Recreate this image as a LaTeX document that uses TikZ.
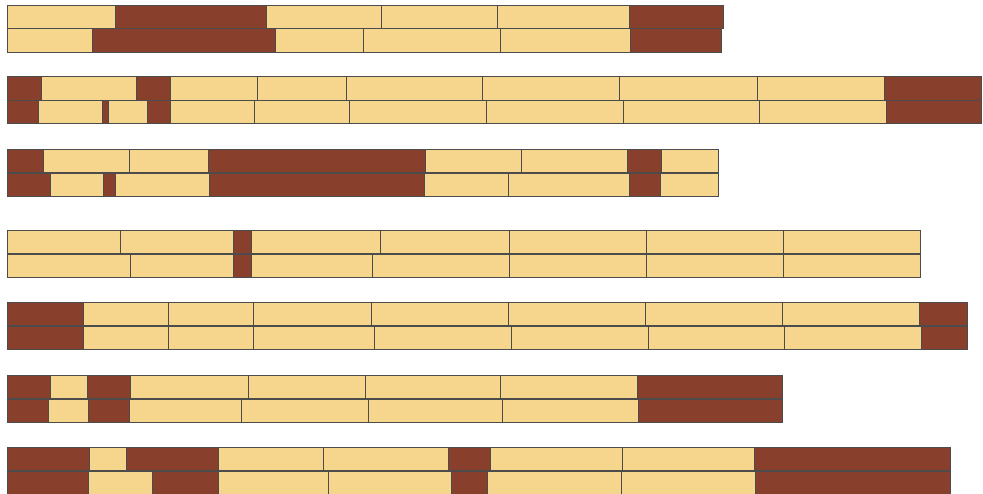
\documentclass[tikz,border=0pt]{standalone}
\usepackage{tikz}
\definecolor{barpale}{RGB}{245,214,140}
\definecolor{barbrick}{RGB}{136,63,43}
\newcommand{\segrow}[2]{\foreach \xa/\xb/\st in {#2}{\draw[\st] (\xa,#1) rectangle (\xb,{#1+23.5});}}

\begin{document}
\begin{tikzpicture}[
    x=1pt, y=-1pt,
    pale/.style={fill=barpale, draw=black!70, line width=0.5pt},
    brick/.style={fill=barbrick, draw=black!70, line width=0.5pt}
]
\useasboundingbox (0,0) rectangle (983,494);
\clip (0,0) rectangle (983,494);

\segrow{5}{7/115/pale, 115/266/brick, 266/381/pale, 381/497/pale, 497/629/pale, 629/723/brick}
\segrow{28.5}{7/92/pale, 92/275/brick, 275/363/pale, 363/500/pale, 500/630/pale, 630/721/brick}

\segrow{76.5}{7/41/brick, 41/136/pale, 136/170/brick, 170/257/pale, 257/346/pale, 346/482/pale, 482/619/pale, 619/757/pale, 757/884/pale, 884/981/brick}
\segrow{100}{7/38/brick, 38/102/pale, 102/108/brick, 108/147/pale, 147/170/brick, 170/254/pale, 254/349/pale, 349/486/pale, 486/623/pale, 623/759/pale, 759/886/pale, 886/981/brick}

\segrow{149}{7/43/brick, 43/129/pale, 129/208/pale, 208/425/brick, 425/521/pale, 521/627/pale, 627/661/brick, 661/718/pale}
\segrow{173}{7/50/brick, 50/103/pale, 103/115/brick, 115/209/pale, 209/424/brick, 424/508/pale, 508/629/pale, 629/660/brick, 660/718/pale}

\segrow{230}{7/120/pale, 120/233/pale, 233/251/brick, 251/380/pale, 380/509/pale, 509/646/pale, 646/783/pale, 783/920/pale}
\segrow{254}{7/130/pale, 130/233/pale, 233/251/brick, 251/372/pale, 372/509/pale, 509/646/pale, 646/783/pale, 783/920/pale}

\segrow{302}{7/83/brick, 83/168/pale, 168/253/pale, 253/371/pale, 371/508/pale, 508/645/pale, 645/782/pale, 782/919/pale, 919/967/brick}
\segrow{326}{7/83/brick, 83/168/pale, 168/253/pale, 253/374/pale, 374/511/pale, 511/648/pale, 648/784/pale, 784/921/pale, 921/967/brick}

\segrow{375}{7/50/brick, 50/87/pale, 87/130/brick, 130/248/pale, 248/365/pale, 365/500/pale, 500/637/pale, 637/782/brick}
\segrow{399}{7/48/brick, 48/88/pale, 88/129/brick, 129/241/pale, 241/368/pale, 368/502/pale, 502/638/pale, 638/782/brick}

\segrow{447}{7/89/brick, 89/126/pale, 126/218/brick, 218/323/pale, 323/448/pale, 448/490/brick, 490/622/pale, 622/754/pale, 754/950/brick}
\segrow{471}{7/88/brick, 88/152/pale, 152/218/brick, 218/328/pale, 328/451/pale, 451/487/brick, 487/621/pale, 621/755/pale, 755/950/brick}
\end{tikzpicture}
\end{document}
